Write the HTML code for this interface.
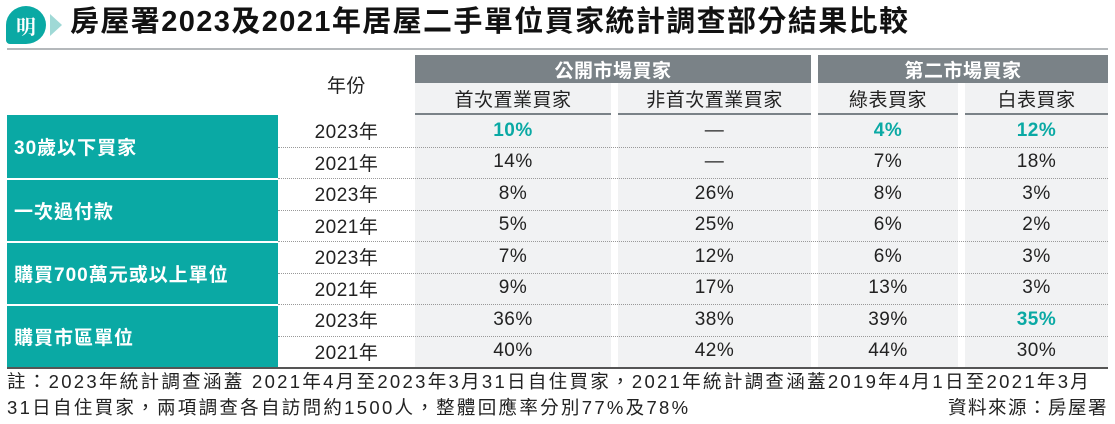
<!DOCTYPE html>
<html><head><meta charset="utf-8"><style>
*{margin:0;padding:0;box-sizing:border-box}
body{width:1115px;height:424px;background:#fff;font-family:"Liberation Sans","Noto Sans CJK TC",sans-serif;position:relative;overflow:hidden;color:#222}
.a{position:absolute}
.c{display:flex;align-items:center;justify-content:center;position:absolute;font-size:19px;letter-spacing:0.5px}
.teal{color:#0aa9a4;font-weight:bold}
</style></head><body>
<div class="a" style="left:6px;top:6px;width:40px;height:38px;background:#0aa9a4;border-radius:50% 50% 50% 10%;color:#fff;font:bold 20px 'Noto Serif CJK SC',serif;display:flex;align-items:center;justify-content:center">明</div>
<div class="a" style="left:50px;top:14px;width:0;height:0;border-top:11px solid transparent;border-bottom:11px solid transparent;border-left:12px solid #9fd9d6"></div>
<div class="a" style="left:70px;top:4px;font-size:29px;font-weight:bold;color:#111;line-height:36px;white-space:nowrap;letter-spacing:1.4px">房屋署2023及2021年居屋二手單位買家統計調查部分結果比較</div>
<div class="a" style="left:7px;top:48px;width:1101px;height:2px;background:#b4b8bb"></div>

<div class="c" style="left:278px;top:55px;width:137px;height:59px">年份</div>
<div class="c" style="left:415px;top:55px;width:396px;height:28px;background:#7a8287;color:#fff;font-weight:bold">公開市場買家</div>
<div class="c" style="left:818px;top:55px;width:290px;height:28px;background:#7a8287;color:#fff;font-weight:bold">第二市場買家</div>
<div id="tbl"></div>
<div class="a" style="left:7px;top:367px;width:1101px;height:2px;background:#555"></div>
<div class="a" style="left:7px;top:369px;font-size:18.5px;line-height:26px;width:1110px;white-space:nowrap;letter-spacing:2.3px">註：2023年統計調查涵蓋 2021年4月至2023年3月31日自住買家，2021年統計調查涵蓋2019年4月1日至2021年3月<br>31日自住買家，兩項調查各自訪問約1500人，整體回應率分別77%及78%</div>
<div class="a" style="right:7px;top:395px;font-size:18.5px;line-height:26px;letter-spacing:1.5px">資料來源：房屋署</div>
<script>
const cols=[[415,196],[618,193],[818,140],[965,143]];
const subHeaders=["首次置業買家","非首次置業買家","綠表買家","白表買家"];
const groups=["30歲以下買家","一次過付款","購買700萬元或以上單位","購買市區單位"];
const years=["2023年","2021年"];
const values=[["10%","—","4%","12%"],["14%","—","7%","18%"],["8%","26%","8%","3%"],["5%","25%","6%","2%"],["7%","12%","6%","3%"],["9%","17%","13%","3%"],["36%","38%","39%","35%"],["40%","42%","44%","30%"]];
const highlight=[[0,0],[0,2],[0,3],[6,3]];
const T=document.getElementById('tbl');
function add(){const d=document.createElement('div');T.appendChild(d);return d;}
const top0=115,rh=31.5;
cols.forEach((c,i)=>{
 const bg=add();bg.className='a';bg.style.cssText=`left:${c[0]}px;top:83px;width:${c[1]}px;height:285px;background:#f1f2f3`;
 
 
 const h=add();h.className='c';h.textContent=subHeaders[i];h.style.cssText=`left:${c[0]}px;top:83px;width:${c[1]}px;height:30px`;
 
 
 const l=add();l.className='a';l.style.cssText=`left:${c[0]}px;top:113px;width:${c[1]}px;height:2px;background:#7a8287`;
});
groups.forEach((g,i)=>{
 const d=add();d.className='a';d.textContent=g;
 d.style.cssText=`left:7px;top:${top0+i*2*rh+(i?1.5:0)}px;width:271px;height:${2*rh-(i?1.5:0)}px;background:#0aa9a4;color:#fff;font-weight:bold;font-size:19px;display:flex;align-items:center;padding-left:7px;letter-spacing:1px`;
 
 
});
values.forEach((row,r)=>{
 const y=top0+r*rh;
 const yr=add();yr.className='c';yr.textContent=years[r%2];yr.style.cssText=`left:278px;top:${y}px;width:137px;height:${rh}px`;
 
 
 row.forEach((v,i)=>{
  const c=cols[i];const d=add();d.className='c';d.textContent=v;
  d.style.cssText=`left:${c[0]}px;top:${y}px;width:${c[1]}px;height:${rh}px`;
  if(highlight.some(h=>h[0]===r&&h[1]===i))d.classList.add('teal');
  
  
 });
 if(r<values.length-1){const l=add();l.className='a';l.style.cssText=`left:278px;top:${y+rh}px;width:830px;border-top:1px dotted #999`;}
});
</script>
</body></html>
